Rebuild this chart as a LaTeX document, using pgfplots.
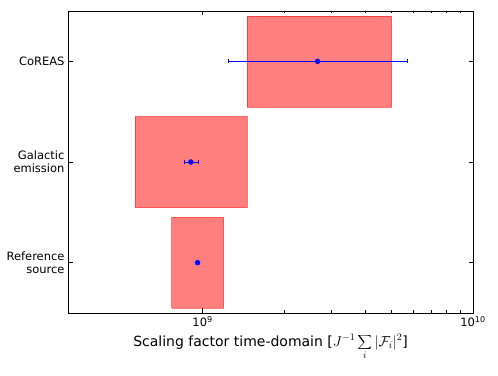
\documentclass[border=0pt]{standalone}
\usepackage{pgfplots}
\pgfplotsset{compat=1.18}
\usepackage{fontspec}
\setmainfont{DejaVu Sans}

\definecolor{boxred}{RGB}{255,0,0}
\definecolor{ptblue}{RGB}{0,0,255}

\begin{document}
\begin{tikzpicture}[font=\fontsize{11.5}{13}\selectfont]
\begin{axis}[
  name=ax,
  scale only axis,
  width=405pt, height=302pt,
  xmode=log,
  xmin=3.18e8, xmax=1e10,
  ymin=-0.5, ymax=2.5,
  xtick={1e9,1e10},
  xticklabels={10\textsuperscript{9},10\textsuperscript{10}},
  ytick={0,1,2},
  yticklabels={{Reference\\source},{Galactic\\emission},{CoREAS}},
  tick label style={font=\fontsize{11.5}{13}\selectfont},
  yticklabel style={align=right},
  tick align=inside,
  major tick length=4.5pt, minor tick length=2.5pt,
  every tick/.style={black, line width=0.8pt},
  axis line style={black, line width=0.8pt},
  xlabel={Scaling factor time-domain [$\displaystyle J^{-1}\sum_i|\mathcal{F}_i|^2$]},
  xlabel style={font=\fontsize{14}{16}\selectfont},
]
% ranges (boxes)
\addplot[fill=boxred, fill opacity=0.5, draw=boxred, draw opacity=0.5, line width=0.8pt]
  coordinates {(1.46e9,1.546) (5.0e9,1.546) (5.0e9,2.45) (1.46e9,2.45) (1.46e9,1.546)};
\addplot[fill=boxred, fill opacity=0.5, draw=boxred, draw opacity=0.5, line width=0.8pt]
  coordinates {(5.63e8,0.546) (1.46e9,0.546) (1.46e9,1.45) (5.63e8,1.45) (5.63e8,0.546)};
\addplot[fill=boxred, fill opacity=0.5, draw=boxred, draw opacity=0.5, line width=0.8pt]
  coordinates {(7.70e8,-0.45) (1.196e9,-0.45) (1.196e9,0.45) (7.70e8,0.45) (7.70e8,-0.45)};
% error bars (lower, upper end)
\addplot[ptblue, line width=0.75pt, mark=|, mark size=2pt, mark options={solid, ptblue}]
  coordinates {(1.25e9,2) (5.72e9,2)};
\addplot[ptblue, line width=0.75pt, mark=|, mark size=2pt, mark options={solid, ptblue}]
  coordinates {(8.58e8,1) (9.63e8,1)};
% measured values
\addplot[only marks, color=ptblue, mark=*, mark size=2.5pt]
  coordinates {(2.66e9,2) (9.05e8,1) (9.58e8,0)};
\end{axis}
\path ([shift={(-68pt,-63pt)}]ax.south west) rectangle ([shift={(25pt,11pt)}]ax.north east);
\end{tikzpicture}
\end{document}
